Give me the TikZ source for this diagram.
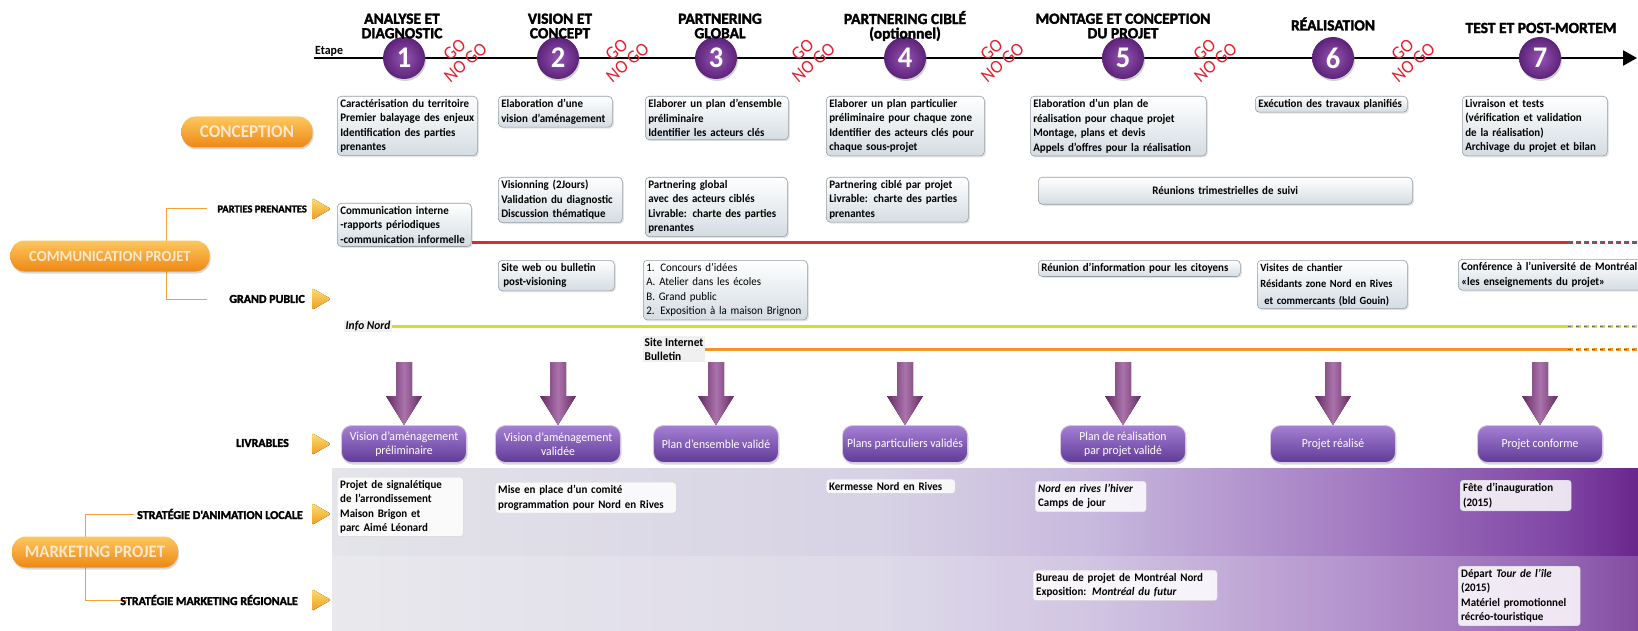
\documentclass[tikz,border=0pt]{standalone}
\usepackage{fontspec}
\setmainfont{Carlito}[FakeStretch=0.95]
\newfontfamily\headfont{Carlito}[BoldFeatures={FakeBold=2}]
\usetikzlibrary{arrows.meta,shadows,positioning}
\definecolor{prpdark}{RGB}{92,34,120}
\definecolor{prpmid}{RGB}{150,85,180}
\definecolor{prplite}{RGB}{165,128,212}
\definecolor{prpbox}{RGB}{96,58,150}
\definecolor{arrowprp}{RGB}{135,55,135}
\definecolor{orgdark}{RGB}{238,135,20}
\definecolor{orglite}{RGB}{252,200,95}
\definecolor{orgtext}{RGB}{255,232,205}
\definecolor{trilite}{RGB}{252,222,110}
\definecolor{tridark}{RGB}{240,155,35}
\definecolor{gored}{RGB}{232,32,45}
\definecolor{linered}{RGB}{228,38,50}
\definecolor{yelline}{RGB}{212,224,40}
\definecolor{orgline}{RGB}{244,150,35}
\definecolor{boxgray}{RGB}{212,220,226}
\definecolor{boxedge}{RGB}{150,158,165}
\definecolor{bandA}{RGB}{228,228,234}
\definecolor{bandB}{RGB}{215,210,228}
\definecolor{bandC}{RGB}{200,185,222}
\definecolor{bandD}{RGB}{165,125,195}
\definecolor{bandE}{RGB}{128,70,165}
\definecolor{bandF}{RGB}{105,38,140}
\pgfdeclarehorizontalshading{mkband}{100bp}{color(0bp)=(bandA); color(25bp)=(bandA); color(46bp)=(bandB); color(54bp)=(bandC); color(64bp)=(bandD); color(72bp)=(bandE); color(75bp)=(bandF); color(100bp)=(bandF)}

\begin{document}
\begin{tikzpicture}[x=1pt,y=-1pt,
  stagecirc/.style={circle, minimum size=42pt, inner sep=0pt, inner color=prpmid, outer color=prpdark, text=white,
    font=\fontsize{30}{30}\selectfont\bfseries, drop shadow={opacity=0.35,shadow xshift=1pt,shadow yshift=-2pt}},
  phasehead/.style={align=center, inner sep=0pt, font=\headfont\fontsize{15.5}{14.5}\selectfont\bfseries},
  gonogo/.style={text=gored, rotate=40, align=center, inner sep=0pt, font=\fontsize{18.5}{17}\selectfont},
  infobox/.style={anchor=north west, draw=boxedge, line width=0.6pt, rounded corners=4pt, top color=white, bottom color=boxgray,
    align=left, inner sep=3pt, font=\fontsize{11.5}{14.5}\selectfont\bfseries,
    drop shadow={opacity=0.2,shadow xshift=1.5pt,shadow yshift=-1.5pt}},
  pillbtn/.style={rounded corners=14pt, top color=orglite, bottom color=orgdark, text=orgtext, minimum height=31pt, inner xsep=0pt,
    font=\fontsize{18}{18}\selectfont\bfseries, drop shadow={opacity=0.3,shadow xshift=1pt,shadow yshift=-2pt}},
  rowlabel/.style={anchor=east, inner sep=0pt, font=\headfont\fontsize{12}{12}\selectfont\bfseries},
  tri/.style={top color=trilite, bottom color=tridark, rounded corners=1.5pt},
  parrow/.style={left color=arrowprp!75!black, right color=arrowprp!75!black, middle color=arrowprp!70!white},
  deliv/.style={rounded corners=10pt, top color=prplite, bottom color=prpbox, draw=white!75!prpdark, line width=0.8pt, text=white,
    align=center, minimum width=125pt, minimum height=37pt, inner sep=1pt, font=\fontsize{12.3}{14}\selectfont,
    drop shadow={opacity=0.3,shadow xshift=1pt,shadow yshift=-2pt}},
  mkbox/.style={anchor=north west, fill=white, fill opacity=0.85, text opacity=1, draw=gray!35, rounded corners=3pt,
    align=left, inner sep=3pt, font=\fontsize{11.5}{14.5}\selectfont\bfseries},
  brk/.style={draw=orgline!90, line width=1pt},
  bandline/.style={line width=3pt},
  tail/.style={line width=3pt, dash pattern=on 5pt off 3pt},
  darktail/.style={line width=1pt, black!60, dash pattern=on 3pt off 5pt}]

\useasboundingbox (0,0) rectangle (1638,631);
\fill[white] (0,0) rectangle (1638,631);
\shade[shading=mkband] (332,468) rectangle (1638,631);
\fill[white, opacity=0.18] (332,556) rectangle (1638,631);

% timeline
\node[anchor=south west, inner sep=1pt, font=\fontsize{12.5}{12}\selectfont\bfseries] (etape) at (314,58) {Etape};
\coordinate (tlend) at (1637,58);
\draw[line width=2.6pt, -{Triangle[length=14pt,width=15pt]}] (etape.south west) -- (tlend);

\foreach \n/\x in {1/404, 2/558, 3/716, 4/905, 5/1123, 6/1333, 7/1540}{
	\node[stagecirc] (s\n) at (\x,58) {\n};
}

\foreach \n/\x in {1/460, 2/622, 3/808, 4/997, 5/1210, 6/1408}{
	\node[gonogo] (go\n) at (\x,56) {GO\\NO GO};
}

\node[phasehead] (h1) at (402,26) {ANALYSE ET\\DIAGNOSTIC};
\node[phasehead] (h2) at (560,26) {VISION ET\\CONCEPT};
\node[phasehead] (h3) at (720,26) {PARTNERING\\GLOBAL};
\node[phasehead] (h4) at (905,26) {PARTNERING CIBLÉ\\(optionnel)};
\node[phasehead] (h5) at (1123,26) {MONTAGE ET CONCEPTION\\DU PROJET};
\node[phasehead] (h6) at (1333,24) {RÉALISATION};
\node[phasehead] (h7) at (1541,28) {TEST ET POST-MORTEM};

% left column
\draw[brk] (207,209) -| (166,299) -- (207,299);
\draw[brk] (134,514) -| (85,600) -- (127,600);

\node[pillbtn, minimum width=131pt] (conc) at (247,132) {CONCEPTION};
\node[pillbtn, minimum width=199pt, font=\fontsize{15.5}{16}\selectfont\bfseries] (comm) at (110,256) {COMMUNICATION PROJET};
\node[pillbtn, minimum width=166pt, font=\fontsize{17.5}{18}\selectfont\bfseries] (mkt) at (95,552) {MARKETING PROJET};

\node[rowlabel, font=\headfont\fontsize{10.5}{11}\selectfont\bfseries] (pp) at (307,209) {PARTIES PRENANTES};
\node[rowlabel] (gp) at (305,299) {GRAND PUBLIC};
\node[rowlabel] (liv) at (289,443) {LIVRABLES};
\node[rowlabel] (sal) at (303,514) {STRATÉGIE D'ANIMATION LOCALE};
\node[rowlabel] (smr) at (298,600) {STRATÉGIE MARKETING RÉGIONALE};

\foreach \y in {209, 299, 444, 514, 600}{
	\fill[tri] (312,\y-11) -- (331,\y) -- (312,\y+11) -- cycle;
}

% conception
\node[infobox, text width=134pt] (b1) at (337,96) {Caractérisation du territoire\\Premier balayage des enjeux\\Identification des parties\\prenantes};
\node[infobox, text width=108pt] (b2) at (498,96) {Elaboration d'une\\vision d'aménagement};
\node[infobox, text width=137pt] (b3) at (645,96) {Elaborer un plan d'ensemble\\préliminaire\\Identifier les acteurs clés};
\node[infobox, text width=152pt] (b4) at (826,96) {Elaborer un plan particulier\\préliminaire pour chaque zone\\Identifier des acteurs clés pour\\chaque sous-projet};
\node[infobox, text width=170pt] (b5) at (1030,96) {Elaboration d'un plan de\\réalisation pour chaque projet\\Montage, plans et devis\\Appels d'offres pour la réalisation};
\node[infobox, text width=146pt] (b6) at (1255,96) {Exécution des travaux planifiés};
\node[infobox, text width=139pt] (b7) at (1462,96) {Livraison et tests\\(vérification et validation\\de la réalisation)\\Archivage du projet et bilan};

% communication
\node[infobox, text width=128pt] (cm1) at (337,203) {Communication interne\\-rapports périodiques\\-communication informelle};
\node[infobox, text width=118pt] (cm2) at (498,177) {Visionning (2Jours)\\Validation du diagnostic\\Discussion thématique};
\node[infobox, text width=136pt] (cm3) at (645,177) {Partnering global\\avec des acteurs ciblés\\Livrable: charte des parties\\prenantes};
\node[infobox, text width=136pt] (cm4) at (826,177) {Partnering ciblé par projet\\Livrable: charte des parties\\prenantes};
\node[infobox, text width=368pt, align=center, minimum height=27pt] (cm5) at (1038,177) {Réunions trimestrielles de suivi};

\coordinate (redend) at (1568,242);
\coordinate (redtip) at (1638,242);
\draw[bandline, linered] (cm1.east |- redend) -- (redend);
\draw[tail, linered] (redend) -- (redtip);
\draw[darktail] (redend) -- (redtip);

\node[infobox, text width=110pt] (gp1) at (498,260) {Site web ou bulletin\\\hspace*{2pt}post-visioning};
\node[infobox, text width=158pt, font=\fontsize{11.5}{14.5}\selectfont] (gp2) at (643,260) {1. Concours d'idées\\A. Atelier dans les écoles\\B. Grand public\\2. Exposition à la maison Brignon};
\node[infobox, text width=196pt] (gp3) at (1038,260) {Réunion d'information pour les citoyens};
\node[infobox, text width=144pt, font=\fontsize{11}{16.5}\selectfont\bfseries] (gp4) at (1257,260) {Visites de chantier\\Résidants zone Nord en Rives\\\hspace*{4pt}et commercants (bld Gouin)};
\node[infobox, text width=200pt] (gp5) at (1458,259) {Conférence à l'université de Montréal\\«les enseignements du projet»};

\node[anchor=west, fill=gray!12, inner sep=1.5pt, font=\fontsize{12}{12}\selectfont\bfseries\itshape] (infonord) at (344,326) {Info Nord};
\node[anchor=west, fill=gray!12, inner sep=1.5pt, align=left, font=\fontsize{12}{14}\selectfont\bfseries] (siteweb) at (643,349) {Site Internet\\Bulletin};

\coordinate (yelend) at (1568,326);
\coordinate (yeltip) at (1638,326);
\coordinate (orgend) at (1568,349);
\coordinate (orgtip) at (1638,349);
\draw[bandline, yelline] (infonord.east) -- (yelend);
\draw[tail, yelline] (yelend) -- (yeltip);
\draw[darktail] (yelend) -- (yeltip);
\draw[bandline, orgline] (siteweb.east |- orgend) -- (orgend);
\draw[tail, orgline] (orgend) -- (orgtip);
\draw[darktail] (orgend) -- (orgtip);

% livrables
\foreach \n/\x/\t in {1/404/Vision d'aménagement\\préliminaire, 2/558/Vision d'aménagement\\validée, 3/716/Plan d'ensemble validé, 4/905/Plans particuliers validés, 5/1123/Plan de réalisation\\par projet validé, 6/1333/Projet réalisé, 7/1540/Projet conforme}{
	\node[deliv] (d\n) at (\x,444) {\t};
	\fill[parrow] (\x-8,362) -- (\x+8,362) -- (\x+8,396) -- (\x+18,396) -- (d\n.north) -- (\x-18,396) -- (\x-8,396) -- cycle;
}

% marketing
\node[mkbox, text width=120pt] (m1) at (337,477) {Projet de signalétique\\de l'arrondissement\\Maison Brigon et\\parc Aimé Léonard};
\node[mkbox, text width=175pt] (m2) at (495,482) {Mise en place d'un comité\\programmation pour Nord en Rives};
\node[mkbox, text width=123pt] (m3) at (826,479) {Kermesse Nord en Rives};
\node[mkbox, text width=105pt] (m4) at (1035,481) {\textit{Nord en rives l'hiver}\\Camps de jour};
\node[mkbox, text width=105pt] (m5) at (1460,480) {Fête d'inauguration\\(2015)};
\node[mkbox, text width=178pt] (m6) at (1033,570) {Bureau de projet de Montréal Nord\\Exposition: \textit{Montréal du futur}};
\node[mkbox, text width=116pt] (m7) at (1458,566) {Départ \textit{Tour de l'île}\\(2015)\\Matériel promotionnel\\récréo-touristique};
\end{tikzpicture}
\end{document}
